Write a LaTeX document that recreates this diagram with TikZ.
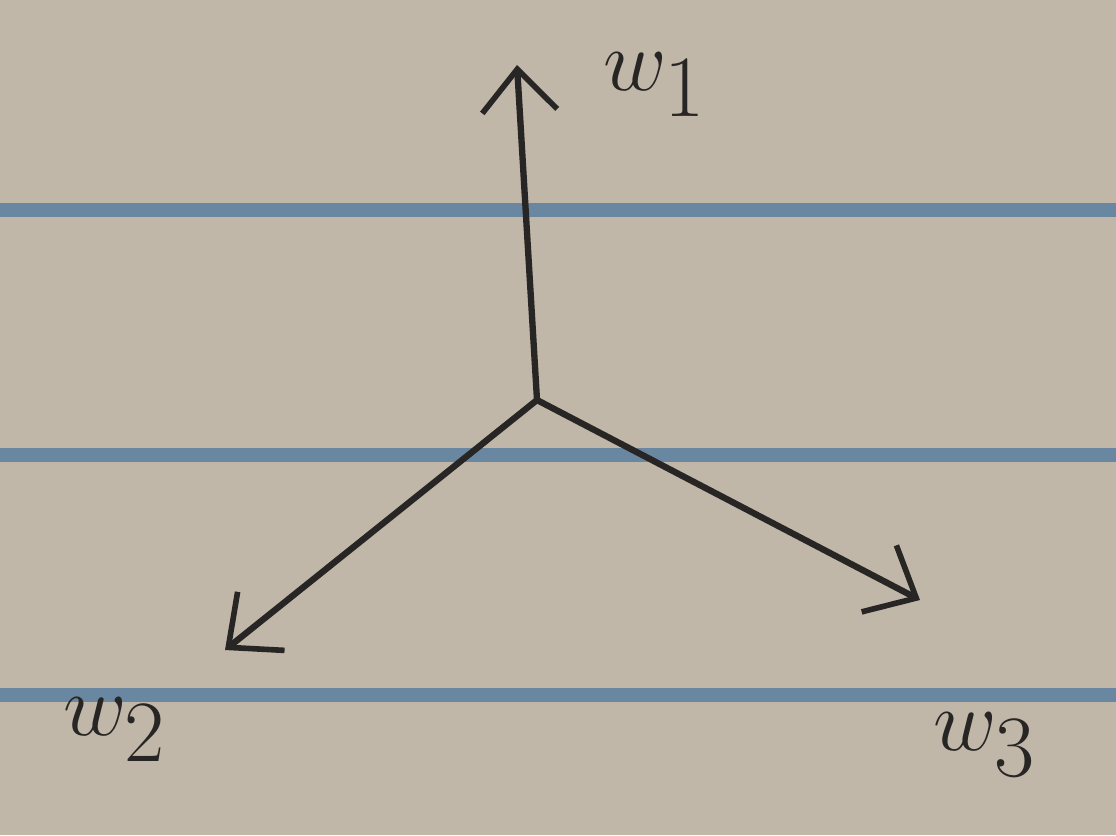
\documentclass[tikz,border=0pt]{standalone}
\usetikzlibrary{arrows.meta}
\definecolor{paper}{RGB}{192,183,168}
\definecolor{rule}{RGB}{105,135,160}
\definecolor{ink}{RGB}{40,38,36}
\tikzset{
  ruling/.style={rule, line width=4pt},
  vec/.style={ink, line width=1.8pt, line cap=round, -{Straight Barb[length=0.42cm,width=0.75cm,line width=1.6pt]}},
  lbl/.style={ink, font=\fontsize{40}{44}\selectfont}
}
\begin{document}
\begin{tikzpicture}[x=0.01cm,y=-0.01cm]
\fill[paper] (0,0) rectangle (1116,835);
\useasboundingbox (0,0) rectangle (1116,835);
\draw[ruling] (0,210) -- (1116,210);
\draw[ruling] (0,455) -- (1116,455);
\draw[ruling] (0,695) -- (1116,695);
\coordinate (O) at (537,400);
\coordinate (A) at (517,65);
\coordinate (B) at (225,650);
\coordinate (C) at (920,600);
\draw[vec] (O) -- (A);
\draw[vec] (O) -- (B);
\draw[vec] (O) -- (C);
\node[lbl] (l1) at (655,85) {$w_1$};
\node[lbl] (l2) at (115,730) {$w_2$};
\node[lbl] (l3) at (985,745) {$w_3$};
\end{tikzpicture}
\end{document}
